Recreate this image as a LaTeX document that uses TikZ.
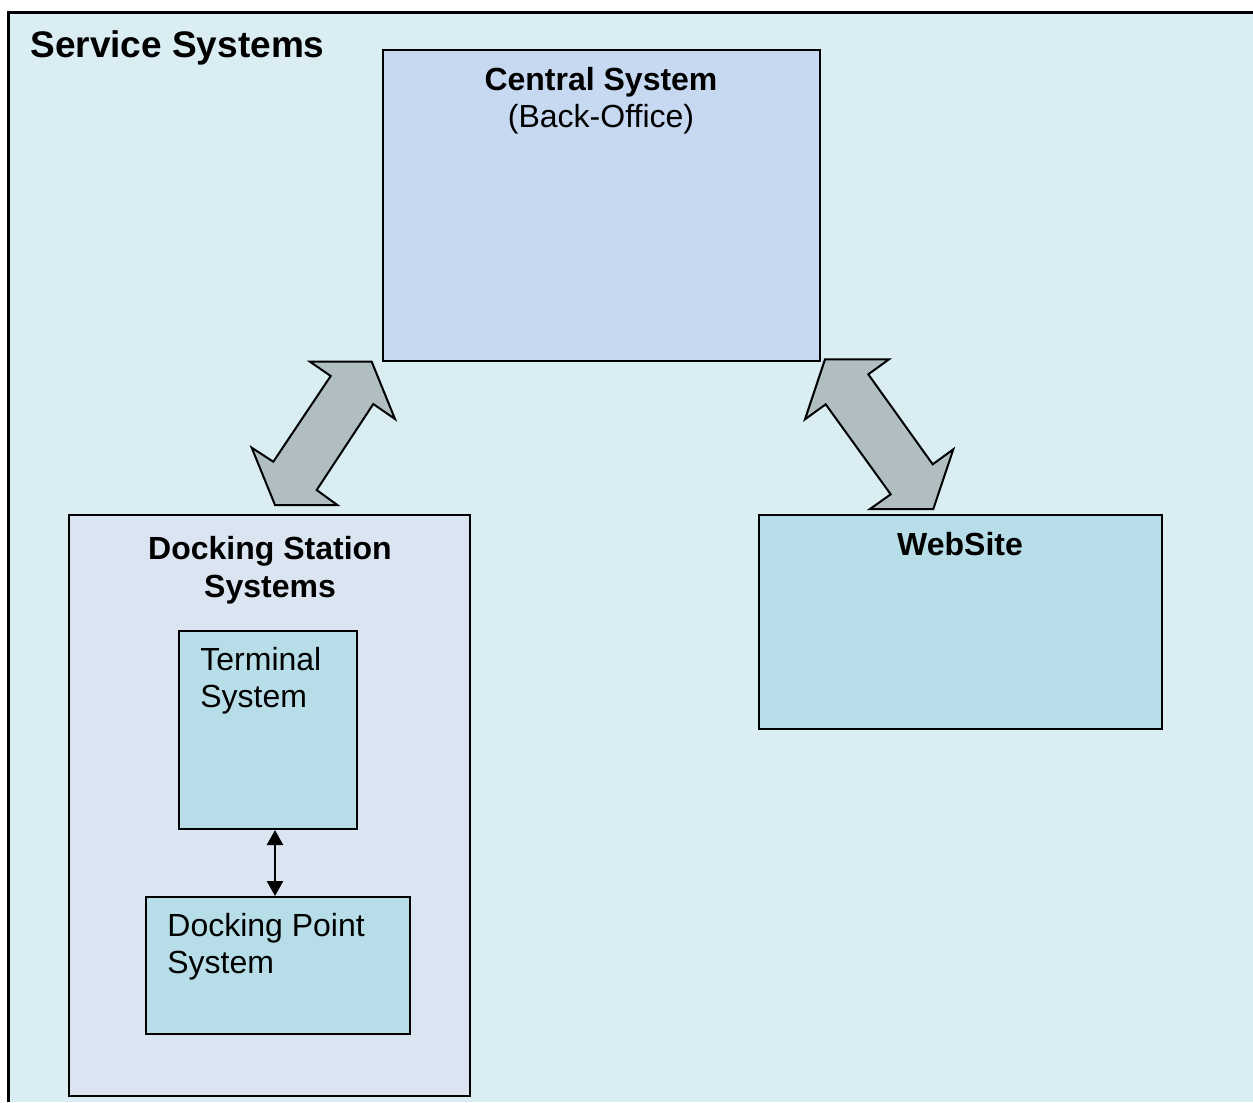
\documentclass[tikz,border=0pt]{standalone}
\usepackage{fontspec}
\setmainfont{Liberation Sans}
\usetikzlibrary{fit,arrows.meta}
\definecolor{servicebg}{RGB}{218,237,243}
\definecolor{centralfill}{RGB}{198,217,241}
\definecolor{stationfill}{RGB}{219,229,241}
\definecolor{leaffill}{RGB}{183,222,232}
\definecolor{linkgray}{RGB}{176,190,194}
\tikzset{
  sysbox/.style={draw=black,line width=1bp,inner sep=0pt,fit={#1}},
  txt/.style={anchor=base,inner sep=0pt,font=\fontsize{16bp}{18.5bp}\selectfont},
  link/.style={draw=black,fill=linkgray,line width=1bp,line join=miter}
}

\begin{document}
\begin{tikzpicture}[x=0.5bp,y=-0.5bp]
\path[use as bounding box] (0,0) rectangle (1253,1102);
\clip (0,0) rectangle (1253,1102);
% outer frame (only left and top edges fall on the page)
\fill[servicebg] (8,12) rectangle (1253,1102);
\draw[line width=1.5bp] (8,1102) -- (8,12) -- (1253,12);
\node[anchor=base west,inner sep=0pt,font=\fontsize{18.5bp}{21bp}\selectfont\bfseries] (svc) at (30,57) {Service Systems};
% boxes
\node[sysbox={(383,50) (820,361)},fill=centralfill] (central) {};
\node[sysbox={(69,515) (470,1096)},fill=stationfill] (station) {};
\node[sysbox={(179,631) (357,829)},fill=leaffill] (terminal) {};
\node[sysbox={(146,897) (410,1034)},fill=leaffill] (dpoint) {};
\node[sysbox={(759,515) (1162,729)},fill=leaffill] (website) {};
% labels
\node[txt,font=\fontsize{16bp}{18.5bp}\selectfont\bfseries] (centralA) at (601,90) {Central System};
\node[txt] (centralB) at (601,127) {(Back-Office)};
\node[txt,font=\fontsize{16bp}{18.5bp}\selectfont\bfseries] (stationA) at (270,559) {Docking Station};
\node[txt,font=\fontsize{16bp}{18.5bp}\selectfont\bfseries] (stationB) at (270,597) {Systems};
\node[txt,font=\fontsize{16bp}{18.5bp}\selectfont\bfseries] (webA) at (960,555) {WebSite};
\node[txt,anchor=base west] (termA) at (200,670) {Terminal};
\node[txt,anchor=base west] (termB) at (200,707) {System};
\node[txt,anchor=base west] (dpointA) at (167,936) {Docking Point};
\node[txt,anchor=base west] (dpointB) at (167,973) {System};
% links
\draw[line width=1.2bp,{Triangle[length=7.5bp,width=8bp]}-{Triangle[length=7.5bp,width=8bp]}] (terminal.south -| 275,0) -- (dpoint.north -| 275,0);
\draw[link] (310,361.7) -- (371.7,361.7) -- (395,419) -- (373.3,404) -- (316.7,490) -- (337.3,505)
  -- (275,505) -- (251.7,447.7) -- (273.3,461.7) -- (330.7,376) -- cycle;
\draw[link] (825,359.3) -- (889,359.3) -- (868.3,374.3) -- (932.7,464.3) -- (953.3,449.3) -- (933.3,509)
  -- (870,509) -- (890.7,494.3) -- (825.7,404.3) -- (805,419.3) -- cycle;
\end{tikzpicture}
\end{document}
